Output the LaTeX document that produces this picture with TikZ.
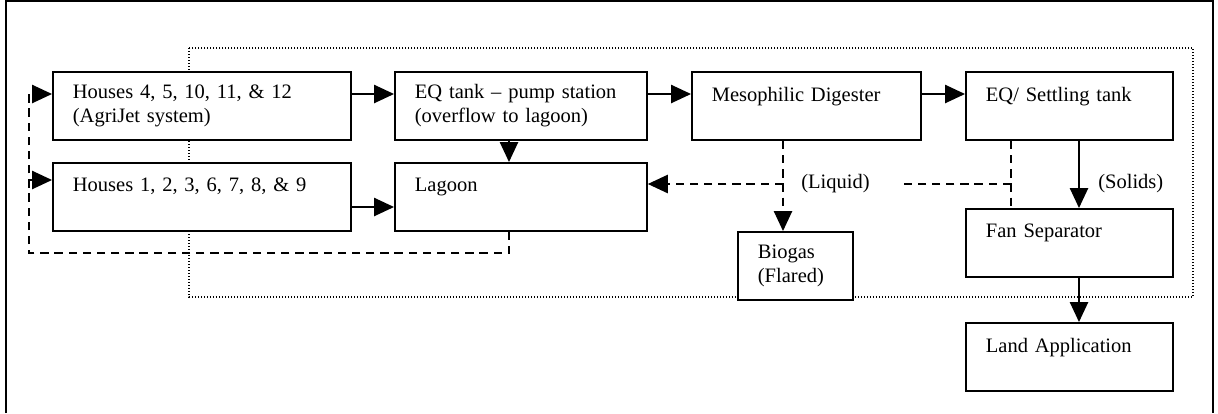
\documentclass[tikz,border=0pt]{standalone}
\usepackage{fontspec}
\setmainfont{Liberation Serif}
\usetikzlibrary{arrows.meta}

\tikzset{
 box/.style={draw, line width=1.1pt, fill=white, anchor=north west, minimum height=40.8pt,
   inner xsep=12pt, inner ysep=0pt, align=left, text width=#1, font=\fontsize{12.3}{14.4}\selectfont},
 flow/.style={line width=0.9pt, ->},
 back/.style={line width=0.9pt, dash pattern=on 5pt off 3.5pt},
 lbl/.style={inner sep=0pt, anchor=west, font=\fontsize{12.3}{14.4}\selectfont}
}

\begin{document}
\begin{tikzpicture}[x=0.6pt, y=-0.6pt, >={Triangle[length=12pt,width=11pt]}]
\useasboundingbox (0,0) rectangle (1218,413);
\draw[line width=1.2pt] (6,413) -- (6,1) -- (1213,1) -- (1213,413);
\draw[line width=0.8pt, dash pattern=on 0.8pt off 1pt] (189,48) rectangle (1193,297);

\node[box=154.8pt] (h45) at (52,71) {Houses 4, 5, 10, 11, \& 12\\(AgriJet system)};
\node[box=154.8pt] (h13) at (52,162) {Houses 1, 2, 3, 6, 7, 8, \& 9\\ \mbox{}};
\node[box=127.2pt] (eq) at (394,71) {EQ tank -- pump station\\(overflow to lagoon)};
\node[box=127.2pt] (lag) at (394,162) {Lagoon\\ \mbox{}};
\node[box=113.4pt] (meso) at (691,71) {Mesophilic Digester\\ \mbox{}};
\node[box=100.2pt] (sett) at (965,71) {EQ/ Settling tank\\ \mbox{}};
\node[box=100.2pt] (fan) at (965,208) {Fan Separator\\ \mbox{}};
\node[box=100.2pt] (land) at (965,322) {Land Application\\ \mbox{}};
\node[box=45pt] (gas) at (737,231) {Biogas\\(Flared)};

\foreach \a/\b in {h45/eq, eq/meso, meso/sett}
 \draw[flow] (\a.east |- 0,94) -- (\b.west |- 0,94);
\draw[flow] (h13.east |- 0,207) -- (lag.west |- 0,207);
\draw[flow] (eq.south -| 509,0) -- (lag.north -| 509,0);

\draw[back,->] (lag.south -| 509,0) |- (29,253) |- (h45.west |- 0,94);
\coordinate (ret) at (29,180);
\draw[back,->] (ret) -- (h13.west |- ret);

\draw[back,->] (meso.south -| 783,0) -- (gas.north -| 783,0);
\coordinate (lj) at (783,184);
\draw[back,->] (lj) -- (lag.east |- lj);
\node[lbl] (liq) at (801,184) {(Liquid)};

\draw[back] (sett.south -| 1011,0) -- (fan.north -| 1011,0);
\coordinate (sj) at (1011,184);
\coordinate (lg) at (898,184);
\draw[back] (sj) -- (lg);

\draw[flow] (sett.south -| 1079,0) -- (fan.north -| 1079,0);
\node[lbl] (sol) at (1098,184) {(Solids)};
\draw[flow] (fan.south -| 1079,0) -- (land.north -| 1079,0);
\end{tikzpicture}
\end{document}
